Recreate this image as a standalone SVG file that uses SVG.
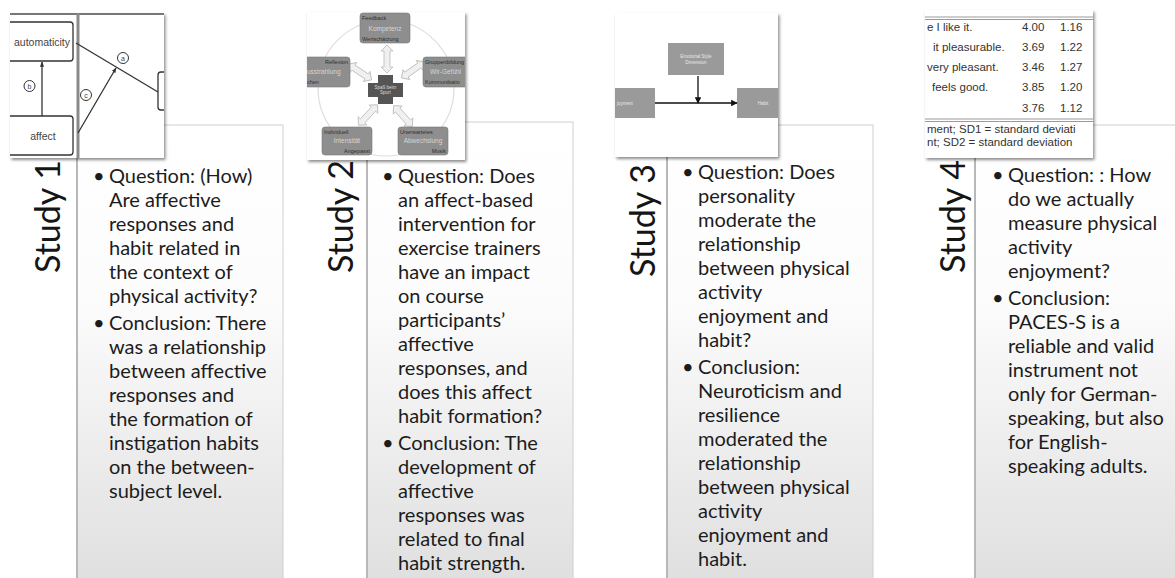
<svg xmlns="http://www.w3.org/2000/svg" xmlns:xlink="http://www.w3.org/1999/xlink" width="1175" height="578" viewBox="0 0 1175 578">
  <style>
    .panel { fill: url(#panelFill); stroke: #cfcfcf; stroke-width: 1; }
    .panelEdge { stroke: #b8b8b8; stroke-width: 2; }
    .body { font-family: Lato, "Open Sans", sans-serif; font-size: 20px; fill: #1c1c1c; }
    .study { font-family: Lato, "Open Sans", sans-serif; font-size: 34px; fill: #151515; }
    .thumb { fill: #ffffff; filter: url(#shadow); }
    .lbl { font-family: "Liberation Sans", Arial, sans-serif; fill: #444; }
    .node1 { fill: #ffffff; stroke: #333; stroke-width: 1.3; }
    .ln { stroke: #333; stroke-width: 1.3; fill: none; }
    .gbox { fill: #8e8e8e; stroke: #7a7a7a; stroke-width: 0.6; }
    .gdark { font-family: "Liberation Sans", Arial, sans-serif; font-size: 5.5px; fill: #2e2e2e; }
    .glight { font-family: "Liberation Sans", Arial, sans-serif; font-size: 6.5px; fill: #d6d6d6; }
    .dbl { fill: #f0f0f0; stroke: #b9b9b9; stroke-width: 0.8; }
    .tbl { font-family: "Liberation Sans", Arial, sans-serif; font-size: 11.5px; fill: #333; }
    .rule { stroke: #9a9a9a; stroke-width: 1; }
  </style>
  <defs>
    <linearGradient id="panelFill" x1="0" y1="0" x2="0" y2="1">
      <stop offset="0" stop-color="#ffffff"/>
      <stop offset="0.38" stop-color="#fcfcfc"/>
      <stop offset="1" stop-color="#dfdfdf"/>
    </linearGradient>
    <filter id="shadow" x="-10%" y="-10%" width="125%" height="125%">
      <feDropShadow dx="1.5" dy="2" stdDeviation="1.6" flood-color="#000" flood-opacity="0.45"/>
    </filter>
    <marker id="arr" viewBox="0 0 10 10" refX="9" refY="5" markerWidth="5" markerHeight="5" orient="auto-start-reverse">
      <path d="M0,0 L10,5 L0,10 Z" fill="#111"/>
    </marker>
    <marker id="arrS" viewBox="0 0 10 10" refX="9" refY="5" markerWidth="4" markerHeight="4" orient="auto">
      <path d="M0,1 L10,5 L0,9 Z" fill="#333"/>
    </marker>
    <path id="dblArrow" d="M-14,0 L-8,-6 L-8,-3 L8,-3 L8,-6 L14,0 L8,6 L8,3 L-8,3 L-8,6 Z"/>
    <clipPath id="clip1"><rect x="10" y="13" width="154" height="145"/></clipPath>
    <clipPath id="clip2"><rect x="307" y="12" width="158" height="148"/></clipPath>
    <clipPath id="clip3"><rect x="615" y="13" width="163" height="144"/></clipPath>
    <clipPath id="clip4"><rect x="925" y="10" width="168" height="148"/></clipPath>
  </defs>

  <!-- text panels -->
  <g id="panel-study1">
    <rect class="panel" x="77" y="125" width="206" height="460"/>
    <line class="panelEdge" x1="77" y1="125" x2="77" y2="578"/>
    <text class="study" transform="translate(60,273) rotate(-90)">Study 1</text>
    <text class="body" x="93" y="183">•</text>
    <text class="body" y="183">
      <tspan x="109">Question: (How)</tspan>
      <tspan x="109" dy="24">Are affective</tspan>
      <tspan x="109" dy="24">responses and</tspan>
      <tspan x="109" dy="24">habit related in</tspan>
      <tspan x="109" dy="24">the context of</tspan>
      <tspan x="109" dy="24">physical activity?</tspan>
    </text>
    <text class="body" x="93" y="330">•</text>
    <text class="body" y="330">
      <tspan x="109">Conclusion: There</tspan>
      <tspan x="109" dy="24">was a relationship</tspan>
      <tspan x="109" dy="24">between affective</tspan>
      <tspan x="109" dy="24">responses and</tspan>
      <tspan x="109" dy="24">the formation of</tspan>
      <tspan x="109" dy="24">instigation habits</tspan>
      <tspan x="109" dy="24">on the between-</tspan>
      <tspan x="109" dy="24">subject level.</tspan>
    </text>
  </g>

  <g id="panel-study2">
    <rect class="panel" x="367" y="122" width="206" height="463"/>
    <line class="panelEdge" x1="367" y1="122" x2="367" y2="578"/>
    <text class="study" transform="translate(353,273) rotate(-90)">Study 2</text>
    <text class="body" x="382" y="183">•</text>
    <text class="body" y="183">
      <tspan x="398">Question: Does</tspan>
      <tspan x="398" dy="24">an affect-based</tspan>
      <tspan x="398" dy="24">intervention for</tspan>
      <tspan x="398" dy="24">exercise trainers</tspan>
      <tspan x="398" dy="24">have an impact</tspan>
      <tspan x="398" dy="24">on course</tspan>
      <tspan x="398" dy="24">participants’</tspan>
      <tspan x="398" dy="24">affective</tspan>
      <tspan x="398" dy="24">responses, and</tspan>
      <tspan x="398" dy="24">does this affect</tspan>
      <tspan x="398" dy="24">habit formation?</tspan>
    </text>
    <text class="body" x="382" y="450">•</text>
    <text class="body" y="450">
      <tspan x="398">Conclusion: The</tspan>
      <tspan x="398" dy="24">development of</tspan>
      <tspan x="398" dy="24">affective</tspan>
      <tspan x="398" dy="24">responses was</tspan>
      <tspan x="398" dy="24">related to final</tspan>
      <tspan x="398" dy="24">habit strength.</tspan>
    </text>
  </g>

  <g id="panel-study3">
    <rect class="panel" x="667" y="125" width="206" height="460"/>
    <line class="panelEdge" x1="667" y1="125" x2="667" y2="578"/>
    <text class="study" transform="translate(655,277) rotate(-90)">Study 3</text>
    <text class="body" x="682" y="179">•</text>
    <text class="body" y="179">
      <tspan x="698">Question: Does</tspan>
      <tspan x="698" dy="24">personality</tspan>
      <tspan x="698" dy="24">moderate the</tspan>
      <tspan x="698" dy="24">relationship</tspan>
      <tspan x="698" dy="24">between physical</tspan>
      <tspan x="698" dy="24">activity</tspan>
      <tspan x="698" dy="24">enjoyment and</tspan>
      <tspan x="698" dy="24">habit?</tspan>
    </text>
    <text class="body" x="682" y="374">•</text>
    <text class="body" y="374">
      <tspan x="698">Conclusion:</tspan>
      <tspan x="698" dy="24">Neuroticism and</tspan>
      <tspan x="698" dy="24">resilience</tspan>
      <tspan x="698" dy="24">moderated the</tspan>
      <tspan x="698" dy="24">relationship</tspan>
      <tspan x="698" dy="24">between physical</tspan>
      <tspan x="698" dy="24">activity</tspan>
      <tspan x="698" dy="24">enjoyment and</tspan>
      <tspan x="698" dy="24">habit.</tspan>
    </text>
  </g>

  <g id="panel-study4">
    <rect class="panel" x="975" y="125" width="210" height="460"/>
    <line class="panelEdge" x1="975" y1="125" x2="975" y2="578"/>
    <text class="study" transform="translate(965,273) rotate(-90)">Study 4</text>
    <text class="body" x="992" y="182">•</text>
    <text class="body" y="182">
      <tspan x="1008">Question: : How</tspan>
      <tspan x="1008" dy="24">do we actually</tspan>
      <tspan x="1008" dy="24">measure physical</tspan>
      <tspan x="1008" dy="24">activity</tspan>
      <tspan x="1008" dy="24">enjoyment?</tspan>
    </text>
    <text class="body" x="992" y="305">•</text>
    <text class="body" y="305">
      <tspan x="1008">Conclusion:</tspan>
      <tspan x="1008" dy="24">PACES-S is a</tspan>
      <tspan x="1008" dy="24">reliable and valid</tspan>
      <tspan x="1008" dy="24">instrument not</tspan>
      <tspan x="1008" dy="24">only for German-</tspan>
      <tspan x="1008" dy="24">speaking, but also</tspan>
      <tspan x="1008" dy="24">for English-</tspan>
      <tspan x="1008" dy="24">speaking adults.</tspan>
    </text>
  </g>

  <!-- study 1 figure: affect / automaticity path model -->
  <g id="figure-study1">
    <rect class="thumb" x="10" y="13" width="154" height="145"/>
    <g clip-path="url(#clip1)">
      <line x1="10" y1="14" x2="164" y2="14" stroke="#777" stroke-width="2"/>
      <line x1="78" y1="13" x2="78" y2="158" stroke="#8a8a8a" stroke-width="3"/>
      <rect class="node1" x="3" y="22" width="70" height="39" rx="3"/>
      <text class="lbl" x="42" y="46" font-size="10.5" text-anchor="middle">automaticity</text>
      <rect class="node1" x="3" y="116" width="70" height="39" rx="3"/>
      <text class="lbl" x="43" y="140" font-size="10.5" text-anchor="middle">affect</text>
      <rect class="node1" x="158" y="72" width="20" height="38" rx="3"/>
      <g id="connectors-study1">
        <line class="ln" x1="42" y1="116" x2="42" y2="62" marker-end="url(#arrS)"/>
        <line class="ln" x1="76" y1="43" x2="158" y2="92"/>
        <line class="ln" x1="78" y1="133" x2="116" y2="68" marker-end="url(#arrS)"/>
      </g>
      <circle cx="29.5" cy="86" r="5.5" fill="#fff" stroke="#333" stroke-width="1"/>
      <text class="lbl" x="29.5" y="88.5" font-size="7" text-anchor="middle">b</text>
      <circle cx="123" cy="58" r="5.5" fill="#fff" stroke="#333" stroke-width="1"/>
      <text class="lbl" x="123" y="60.5" font-size="7" text-anchor="middle">a</text>
      <circle cx="86" cy="95" r="5.5" fill="#fff" stroke="#333" stroke-width="1"/>
      <text class="lbl" x="86" y="97.5" font-size="7" text-anchor="middle">c</text>
    </g>
  </g>

  <!-- study 2 figure: enjoyment factors around the centre -->
  <g id="figure-study2">
    <rect class="thumb" x="307" y="12" width="158" height="148"/>
    <g clip-path="url(#clip2)">
      <circle cx="386" cy="88" r="68" fill="none" stroke="#dedede" stroke-width="1.2"/>
      <g id="connectors-study2">
        <use xlink:href="#dblArrow" class="dbl" transform="translate(387,59) rotate(90)"/>
        <use xlink:href="#dblArrow" class="dbl" transform="translate(413,70) rotate(-35)"/>
        <use xlink:href="#dblArrow" class="dbl" transform="translate(360,72) rotate(34)"/>
        <use xlink:href="#dblArrow" class="dbl" transform="translate(368,115) rotate(-47)"/>
        <use xlink:href="#dblArrow" class="dbl" transform="translate(403,116) rotate(48)"/>
      </g>
      <g id="centre">
        <rect x="378" y="75" width="15" height="29" fill="#555"/>
        <rect x="368" y="83" width="35" height="14" fill="#555"/>
        <text x="385.5" y="88.5" font-family="Liberation Sans, Arial, sans-serif" font-size="4.5" fill="#ddd" text-anchor="middle">Spaß beim</text>
        <text x="385.5" y="94" font-family="Liberation Sans, Arial, sans-serif" font-size="4.5" fill="#ddd" text-anchor="middle">Sport</text>
      </g>
      <g id="box-top">
        <rect class="gbox" x="360" y="13" width="50" height="30" rx="3"/>
        <text class="gdark" x="362" y="20">Feedback</text>
        <text class="glight" x="385" y="31" text-anchor="middle">Kompetenz</text>
        <text class="gdark" x="362" y="40.5">Wertschätzung</text>
      </g>
      <g id="box-left">
        <rect class="gbox" x="300" y="57" width="50" height="30" rx="3"/>
        <text class="gdark" x="348" y="63.5" text-anchor="end">Reflexion</text>
        <text class="glight" x="307" y="74">usstrahlung</text>
        <text class="gdark" x="307" y="83.5">chen</text>
      </g>
      <g id="box-right">
        <rect class="gbox" x="423" y="57" width="52" height="30" rx="3"/>
        <text class="gdark" x="425" y="63.5">Gruppenbildung</text>
        <text class="glight" x="430" y="74">Wir-Gefühl</text>
        <text class="gdark" x="425" y="83.5">Kommunikatio</text>
      </g>
      <g id="box-bottom-left">
        <rect class="gbox" x="322" y="127" width="50" height="28" rx="3"/>
        <text class="gdark" x="324" y="133.5">Individuell</text>
        <text class="glight" x="347" y="143" text-anchor="middle">Intensität</text>
        <text class="gdark" x="370" y="152.5" text-anchor="end">Angepasst</text>
      </g>
      <g id="box-bottom-right">
        <rect class="gbox" x="398" y="127" width="50" height="28" rx="3"/>
        <text class="gdark" x="400" y="133.5">Unerwartetes</text>
        <text class="glight" x="423" y="143" text-anchor="middle">Abwechslung</text>
        <text class="gdark" x="446" y="152.5" text-anchor="end">Musik</text>
      </g>
    </g>
  </g>

  <!-- study 3 figure: moderation model -->
  <g id="figure-study3">
    <rect class="thumb" x="615" y="13" width="163" height="144"/>
    <g clip-path="url(#clip3)">
      <rect x="668" y="43" width="56" height="32" fill="#9a9a9a"/>
      <text x="696" y="58" font-family="Liberation Sans, Arial, sans-serif" font-size="4.5" fill="#e8e8e8" text-anchor="middle">Emotional Style</text>
      <text x="696" y="64" font-family="Liberation Sans, Arial, sans-serif" font-size="4.5" fill="#e8e8e8" text-anchor="middle">Dimension</text>
      <rect x="608" y="88" width="47" height="30" fill="#9a9a9a"/>
      <text x="617" y="105" font-family="Liberation Sans, Arial, sans-serif" font-size="4.5" fill="#e8e8e8">joyment</text>
      <rect x="737" y="88" width="50" height="30" fill="#9a9a9a"/>
      <text x="763" y="105" font-family="Liberation Sans, Arial, sans-serif" font-size="4.5" fill="#e8e8e8" text-anchor="middle">Habit</text>
      <g id="connectors-study3">
        <line x1="655" y1="103" x2="737" y2="103" stroke="#111" stroke-width="1.3" marker-end="url(#arr)"/>
        <line x1="698" y1="76" x2="698" y2="103" stroke="#111" stroke-width="1.3" marker-end="url(#arr)"/>
      </g>
    </g>
  </g>

  <!-- study 4 figure: PACES-S item table -->
  <g id="figure-study4">
    <rect class="thumb" x="925" y="10" width="168" height="148"/>
    <g clip-path="url(#clip4)">
      <line class="rule" x1="925" y1="17" x2="1093" y2="17"/>
      <line class="rule" x1="925" y1="19.5" x2="1093" y2="19.5"/>
      <text class="tbl" x="927" y="31">e I like it.</text>
      <text class="tbl" x="933" y="51">it pleasurable.</text>
      <text class="tbl" x="927" y="71">very pleasant.</text>
      <text class="tbl" x="932" y="91">feels good.</text>
      <text class="tbl" x="1022" y="31">4.00</text>
      <text class="tbl" x="1060" y="31">1.16</text>
      <text class="tbl" x="1022" y="51">3.69</text>
      <text class="tbl" x="1060" y="51">1.22</text>
      <text class="tbl" x="1022" y="71">3.46</text>
      <text class="tbl" x="1060" y="71">1.27</text>
      <text class="tbl" x="1022" y="91">3.85</text>
      <text class="tbl" x="1060" y="91">1.20</text>
      <text class="tbl" x="1022" y="112">3.76</text>
      <text class="tbl" x="1060" y="112">1.12</text>
      <line class="rule" x1="925" y1="119" x2="1093" y2="119"/>
      <line class="rule" x1="925" y1="121.5" x2="1093" y2="121.5"/>
      <text class="tbl" x="927" y="133">ment; SD1 = standard deviati</text>
      <text class="tbl" x="927" y="146">nt; SD2 = standard deviation</text>
    </g>
  </g>
</svg>
